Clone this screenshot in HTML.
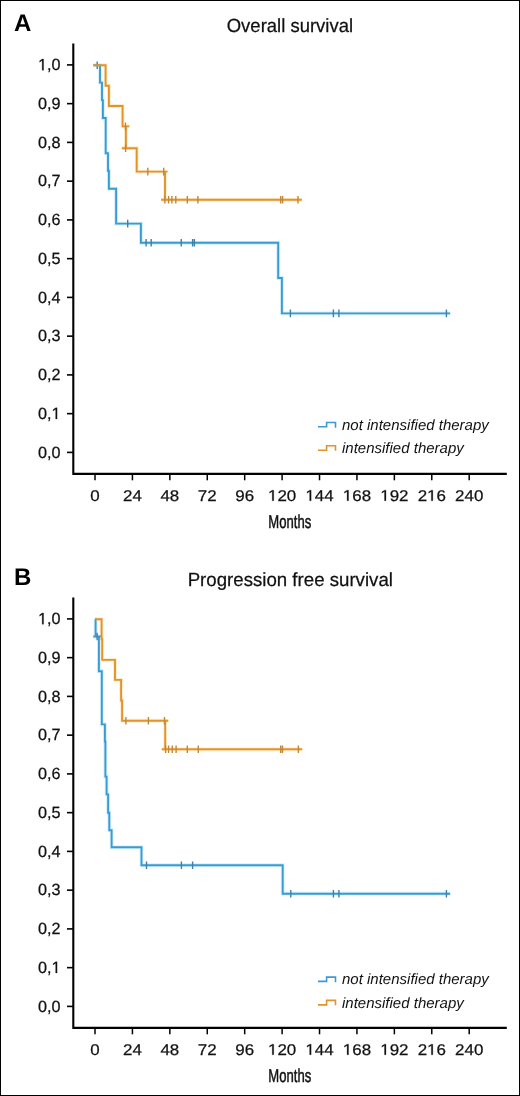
<!DOCTYPE html>
<html><head><meta charset="utf-8"><style>
html,body{margin:0;padding:0;background:#fff;overflow:hidden;}
#c{position:relative;width:520px;height:1096px;overflow:hidden;background:#fff;}
svg{will-change:transform;}
svg{position:absolute;left:0;top:0;}
</style></head><body><div id="c">
<svg width="520" height="1096" viewBox="0 0 520 1096" text-rendering="geometricPrecision">
<rect x="0.5" y="0.5" width="519" height="1095" fill="#fff" stroke="#000" stroke-width="1"/>
<g transform="translate(0,0)">
<text x="14" y="31" font-family="Liberation Sans" font-weight="bold" font-size="24" fill="#000">A</text>
<text x="289.9" y="32" text-anchor="middle" font-family="Liberation Sans" font-size="19" textLength="126.3" lengthAdjust="spacingAndGlyphs" fill="#111" stroke="#111" stroke-width="0.25">Overall survival</text>
<path d="M73.3,43.5 V474.8 M72.4,473.9 H506.8" stroke="#000" stroke-width="2.1" fill="none"/>
<path d="M67,64.90 H73" stroke="#000" stroke-width="1.6"/>
<text x="38.08" y="70.20" font-family="Liberation Sans" font-size="16.2" textLength="22.52" lengthAdjust="spacingAndGlyphs" fill="#111" stroke="#111" stroke-width="0.25"> ,0</text>
<path d="M515,0 L515,1237 L197,1010 L197,1180 L530,1409 L696,1409 L696,0 Z" transform="matrix(0.007910,0,0,-0.007910,38.080,70.200)" fill="#111" stroke="#111" stroke-width="0.25" vector-effect="non-scaling-stroke"/>
<path d="M67,103.65 H73" stroke="#000" stroke-width="1.6"/>
<text x="38.08" y="108.95" font-family="Liberation Sans" font-size="16.2" textLength="22.52" lengthAdjust="spacingAndGlyphs" fill="#111" stroke="#111" stroke-width="0.25">0,9</text>
<path d="M67,142.40 H73" stroke="#000" stroke-width="1.6"/>
<text x="38.08" y="147.70" font-family="Liberation Sans" font-size="16.2" textLength="22.52" lengthAdjust="spacingAndGlyphs" fill="#111" stroke="#111" stroke-width="0.25">0,8</text>
<path d="M67,181.15 H73" stroke="#000" stroke-width="1.6"/>
<text x="38.08" y="186.45" font-family="Liberation Sans" font-size="16.2" textLength="22.52" lengthAdjust="spacingAndGlyphs" fill="#111" stroke="#111" stroke-width="0.25">0,7</text>
<path d="M67,219.90 H73" stroke="#000" stroke-width="1.6"/>
<text x="38.08" y="225.20" font-family="Liberation Sans" font-size="16.2" textLength="22.52" lengthAdjust="spacingAndGlyphs" fill="#111" stroke="#111" stroke-width="0.25">0,6</text>
<path d="M67,258.65 H73" stroke="#000" stroke-width="1.6"/>
<text x="38.08" y="263.95" font-family="Liberation Sans" font-size="16.2" textLength="22.52" lengthAdjust="spacingAndGlyphs" fill="#111" stroke="#111" stroke-width="0.25">0,5</text>
<path d="M67,297.40 H73" stroke="#000" stroke-width="1.6"/>
<text x="38.08" y="302.70" font-family="Liberation Sans" font-size="16.2" textLength="22.52" lengthAdjust="spacingAndGlyphs" fill="#111" stroke="#111" stroke-width="0.25">0,4</text>
<path d="M67,336.15 H73" stroke="#000" stroke-width="1.6"/>
<text x="38.08" y="341.45" font-family="Liberation Sans" font-size="16.2" textLength="22.52" lengthAdjust="spacingAndGlyphs" fill="#111" stroke="#111" stroke-width="0.25">0,3</text>
<path d="M67,374.90 H73" stroke="#000" stroke-width="1.6"/>
<text x="38.08" y="380.20" font-family="Liberation Sans" font-size="16.2" textLength="22.52" lengthAdjust="spacingAndGlyphs" fill="#111" stroke="#111" stroke-width="0.25">0,2</text>
<path d="M67,413.65 H73" stroke="#000" stroke-width="1.6"/>
<text x="38.08" y="418.95" font-family="Liberation Sans" font-size="16.2" textLength="22.52" lengthAdjust="spacingAndGlyphs" fill="#111" stroke="#111" stroke-width="0.25">0, </text>
<path d="M515,0 L515,1237 L197,1010 L197,1180 L530,1409 L696,1409 L696,0 Z" transform="matrix(0.007910,0,0,-0.007910,51.591,418.950)" fill="#111" stroke="#111" stroke-width="0.25" vector-effect="non-scaling-stroke"/>
<path d="M67,452.40 H73" stroke="#000" stroke-width="1.6"/>
<text x="38.08" y="457.70" font-family="Liberation Sans" font-size="16.2" textLength="22.52" lengthAdjust="spacingAndGlyphs" fill="#111" stroke="#111" stroke-width="0.25">0,0</text>
<path d="M95.00,474 V480.3" stroke="#000" stroke-width="1.5"/>
<text x="90.29" y="500.80" font-family="Liberation Sans" font-size="15.5" textLength="9.41" lengthAdjust="spacingAndGlyphs" fill="#111" stroke="#111" stroke-width="0.25">0</text>
<path d="M132.42,474 V480.3" stroke="#000" stroke-width="1.5"/>
<text x="123.01" y="500.80" font-family="Liberation Sans" font-size="15.5" textLength="18.83" lengthAdjust="spacingAndGlyphs" fill="#111" stroke="#111" stroke-width="0.25">24</text>
<path d="M169.84,474 V480.3" stroke="#000" stroke-width="1.5"/>
<text x="160.43" y="500.80" font-family="Liberation Sans" font-size="15.5" textLength="18.83" lengthAdjust="spacingAndGlyphs" fill="#111" stroke="#111" stroke-width="0.25">48</text>
<path d="M207.26,474 V480.3" stroke="#000" stroke-width="1.5"/>
<text x="197.85" y="500.80" font-family="Liberation Sans" font-size="15.5" textLength="18.83" lengthAdjust="spacingAndGlyphs" fill="#111" stroke="#111" stroke-width="0.25">72</text>
<path d="M244.68,474 V480.3" stroke="#000" stroke-width="1.5"/>
<text x="235.27" y="500.80" font-family="Liberation Sans" font-size="15.5" textLength="18.83" lengthAdjust="spacingAndGlyphs" fill="#111" stroke="#111" stroke-width="0.25">96</text>
<path d="M282.10,474 V480.3" stroke="#000" stroke-width="1.5"/>
<text x="267.98" y="500.80" font-family="Liberation Sans" font-size="15.5" textLength="28.24" lengthAdjust="spacingAndGlyphs" fill="#111" stroke="#111" stroke-width="0.25"> 20</text>
<path d="M515,0 L515,1237 L197,1010 L197,1180 L530,1409 L696,1409 L696,0 Z" transform="matrix(0.008265,0,0,-0.007568,267.979,500.800)" fill="#111" stroke="#111" stroke-width="0.25" vector-effect="non-scaling-stroke"/>
<path d="M319.52,474 V480.3" stroke="#000" stroke-width="1.5"/>
<text x="305.40" y="500.80" font-family="Liberation Sans" font-size="15.5" textLength="28.24" lengthAdjust="spacingAndGlyphs" fill="#111" stroke="#111" stroke-width="0.25"> 44</text>
<path d="M515,0 L515,1237 L197,1010 L197,1180 L530,1409 L696,1409 L696,0 Z" transform="matrix(0.008265,0,0,-0.007568,305.399,500.800)" fill="#111" stroke="#111" stroke-width="0.25" vector-effect="non-scaling-stroke"/>
<path d="M356.94,474 V480.3" stroke="#000" stroke-width="1.5"/>
<text x="342.82" y="500.80" font-family="Liberation Sans" font-size="15.5" textLength="28.24" lengthAdjust="spacingAndGlyphs" fill="#111" stroke="#111" stroke-width="0.25"> 68</text>
<path d="M515,0 L515,1237 L197,1010 L197,1180 L530,1409 L696,1409 L696,0 Z" transform="matrix(0.008265,0,0,-0.007568,342.819,500.800)" fill="#111" stroke="#111" stroke-width="0.25" vector-effect="non-scaling-stroke"/>
<path d="M394.36,474 V480.3" stroke="#000" stroke-width="1.5"/>
<text x="380.24" y="500.80" font-family="Liberation Sans" font-size="15.5" textLength="28.24" lengthAdjust="spacingAndGlyphs" fill="#111" stroke="#111" stroke-width="0.25"> 92</text>
<path d="M515,0 L515,1237 L197,1010 L197,1180 L530,1409 L696,1409 L696,0 Z" transform="matrix(0.008265,0,0,-0.007568,380.239,500.800)" fill="#111" stroke="#111" stroke-width="0.25" vector-effect="non-scaling-stroke"/>
<path d="M431.78,474 V480.3" stroke="#000" stroke-width="1.5"/>
<text x="417.66" y="500.80" font-family="Liberation Sans" font-size="15.5" textLength="28.24" lengthAdjust="spacingAndGlyphs" fill="#111" stroke="#111" stroke-width="0.25">2 6</text>
<path d="M515,0 L515,1237 L197,1010 L197,1180 L530,1409 L696,1409 L696,0 Z" transform="matrix(0.008265,0,0,-0.007568,427.073,500.800)" fill="#111" stroke="#111" stroke-width="0.25" vector-effect="non-scaling-stroke"/>
<path d="M469.20,474 V480.3" stroke="#000" stroke-width="1.5"/>
<text x="455.08" y="500.80" font-family="Liberation Sans" font-size="15.5" textLength="28.24" lengthAdjust="spacingAndGlyphs" fill="#111" stroke="#111" stroke-width="0.25">240</text>
<text x="268.3" y="527.6" font-family="Liberation Sans" font-size="18.6" textLength="42.9" lengthAdjust="spacingAndGlyphs" fill="#111" stroke="#111" stroke-width="0.5">Months</text>
<path d="M95.00,65.20 L100.00,65.20 L100.00,82.60 L102.00,82.60 L102.00,100.10 L102.90,100.10 L102.90,118.00 L105.70,118.00 L105.70,153.20 L108.00,153.20 L108.00,170.80 L108.90,170.80 L108.90,188.70 L116.10,188.70 L116.10,223.60 L140.90,223.60 L140.90,242.80 L278.20,242.80 L278.20,278.00 L281.90,278.00 L281.90,313.40 L446.40,313.40 M93.40,65.20 H101.00 M123.90,223.60 H131.50 M142.30,242.80 H149.90 M147.40,242.80 H155.00 M177.45,242.80 H185.05 M188.80,242.80 H196.40 M190.60,242.80 H198.20 M286.60,313.40 H294.20 M329.60,313.40 H337.20 M335.10,313.40 H342.70 M442.60,313.40 H450.20 " stroke="#d4f0fa" stroke-width="3.8" fill="none"/>
<path d="M93.50,65.20 L105.60,65.20 L105.60,85.70 L108.90,85.70 L108.90,106.00 L122.60,106.00 L122.60,126.40 L125.90,126.40 L125.90,148.20 L136.70,148.20 L136.70,171.60 L165.00,171.60 L165.00,199.80 L298.00,199.80 M121.70,126.40 H129.30 M121.80,148.20 H129.40 M144.00,171.60 H151.60 M159.90,171.60 H167.50 M161.10,199.80 H168.70 M164.80,199.80 H172.40 M168.10,199.80 H175.70 M172.00,199.80 H179.60 M183.50,199.80 H191.10 M194.10,199.80 H201.70 M276.90,199.80 H284.50 M278.80,199.80 H286.40 M294.20,199.80 H301.80 " stroke="#fcefcc" stroke-width="3.8" fill="none"/>
<path d="M95.00,65.20 L100.00,65.20 L100.00,82.60 L102.00,82.60 L102.00,100.10 L102.90,100.10 L102.90,118.00 L105.70,118.00 L105.70,153.20 L108.00,153.20 L108.00,170.80 L108.90,170.80 L108.90,188.70 L116.10,188.70 L116.10,223.60 L140.90,223.60 L140.90,242.80 L278.20,242.80 L278.20,278.00 L281.90,278.00 L281.90,313.40 L446.40,313.40 M93.40,65.20 H101.00 M123.90,223.60 H131.50 M142.30,242.80 H149.90 M147.40,242.80 H155.00 M177.45,242.80 H185.05 M188.80,242.80 H196.40 M190.60,242.80 H198.20 M286.60,313.40 H294.20 M329.60,313.40 H337.20 M335.10,313.40 H342.70 M442.60,313.40 H450.20 " stroke="#3a9bd4" stroke-width="1.9" fill="none"/>
<path d="M97.20,61.40 V69.00 M127.70,219.80 V227.40 M146.10,239.00 V246.60 M151.20,239.00 V246.60 M181.25,239.00 V246.60 M192.60,239.00 V246.60 M194.40,239.00 V246.60 M290.40,309.60 V317.20 M333.40,309.60 V317.20 M338.90,309.60 V317.20 M446.40,309.60 V317.20 " stroke="#3f80aa" stroke-width="1.4" fill="none"/>
<path d="M93.50,65.20 L105.60,65.20 L105.60,85.70 L108.90,85.70 L108.90,106.00 L122.60,106.00 L122.60,126.40 L125.90,126.40 L125.90,148.20 L136.70,148.20 L136.70,171.60 L165.00,171.60 L165.00,199.80 L298.00,199.80 M121.70,126.40 H129.30 M121.80,148.20 H129.40 M144.00,171.60 H151.60 M159.90,171.60 H167.50 M161.10,199.80 H168.70 M164.80,199.80 H172.40 M168.10,199.80 H175.70 M172.00,199.80 H179.60 M183.50,199.80 H191.10 M194.10,199.80 H201.70 M276.90,199.80 H284.50 M278.80,199.80 H286.40 M294.20,199.80 H301.80 " stroke="#e3922c" stroke-width="1.9" fill="none"/>
<path d="M125.50,122.60 V130.20 M125.60,144.40 V152.00 M147.80,167.80 V175.40 M163.70,167.80 V175.40 M164.90,196.00 V203.60 M168.60,196.00 V203.60 M171.90,196.00 V203.60 M175.80,196.00 V203.60 M187.30,196.00 V203.60 M197.90,196.00 V203.60 M280.70,196.00 V203.60 M282.60,196.00 V203.60 M298.00,196.00 V203.60 " stroke="#c0883a" stroke-width="1.4" fill="none"/>
<g transform="translate(0,0)">
<path d="M318,426.75 H326.6 V422.5 H335.5 V427.75" stroke="#3a9bd4" stroke-width="1.6" fill="none"/>
<path d="M318,450.25 H326.6 V445.75 H335.5 V450.75" stroke="#e3922c" stroke-width="1.6" fill="none"/>
<text x="342" y="429.9" font-family="Liberation Sans" font-style="italic" font-size="15" fill="#111">not intensified therapy</text>
<text x="342" y="453.2" font-family="Liberation Sans" font-style="italic" font-size="15" fill="#111">intensified therapy</text>
</g>
</g>
<g transform="translate(0,554)">
<text x="14" y="31" font-family="Liberation Sans" font-weight="bold" font-size="24" fill="#000">B</text>
<text x="290.3" y="32" text-anchor="middle" font-family="Liberation Sans" font-size="19" textLength="205.3" lengthAdjust="spacingAndGlyphs" fill="#111" stroke="#111" stroke-width="0.25">Progression free survival</text>
<path d="M73.3,43.5 V474.8 M72.4,473.9 H506.8" stroke="#000" stroke-width="2.1" fill="none"/>
<path d="M67,64.90 H73" stroke="#000" stroke-width="1.6"/>
<text x="38.08" y="70.20" font-family="Liberation Sans" font-size="16.2" textLength="22.52" lengthAdjust="spacingAndGlyphs" fill="#111" stroke="#111" stroke-width="0.25"> ,0</text>
<path d="M515,0 L515,1237 L197,1010 L197,1180 L530,1409 L696,1409 L696,0 Z" transform="matrix(0.007910,0,0,-0.007910,38.080,70.200)" fill="#111" stroke="#111" stroke-width="0.25" vector-effect="non-scaling-stroke"/>
<path d="M67,103.65 H73" stroke="#000" stroke-width="1.6"/>
<text x="38.08" y="108.95" font-family="Liberation Sans" font-size="16.2" textLength="22.52" lengthAdjust="spacingAndGlyphs" fill="#111" stroke="#111" stroke-width="0.25">0,9</text>
<path d="M67,142.40 H73" stroke="#000" stroke-width="1.6"/>
<text x="38.08" y="147.70" font-family="Liberation Sans" font-size="16.2" textLength="22.52" lengthAdjust="spacingAndGlyphs" fill="#111" stroke="#111" stroke-width="0.25">0,8</text>
<path d="M67,181.15 H73" stroke="#000" stroke-width="1.6"/>
<text x="38.08" y="186.45" font-family="Liberation Sans" font-size="16.2" textLength="22.52" lengthAdjust="spacingAndGlyphs" fill="#111" stroke="#111" stroke-width="0.25">0,7</text>
<path d="M67,219.90 H73" stroke="#000" stroke-width="1.6"/>
<text x="38.08" y="225.20" font-family="Liberation Sans" font-size="16.2" textLength="22.52" lengthAdjust="spacingAndGlyphs" fill="#111" stroke="#111" stroke-width="0.25">0,6</text>
<path d="M67,258.65 H73" stroke="#000" stroke-width="1.6"/>
<text x="38.08" y="263.95" font-family="Liberation Sans" font-size="16.2" textLength="22.52" lengthAdjust="spacingAndGlyphs" fill="#111" stroke="#111" stroke-width="0.25">0,5</text>
<path d="M67,297.40 H73" stroke="#000" stroke-width="1.6"/>
<text x="38.08" y="302.70" font-family="Liberation Sans" font-size="16.2" textLength="22.52" lengthAdjust="spacingAndGlyphs" fill="#111" stroke="#111" stroke-width="0.25">0,4</text>
<path d="M67,336.15 H73" stroke="#000" stroke-width="1.6"/>
<text x="38.08" y="341.45" font-family="Liberation Sans" font-size="16.2" textLength="22.52" lengthAdjust="spacingAndGlyphs" fill="#111" stroke="#111" stroke-width="0.25">0,3</text>
<path d="M67,374.90 H73" stroke="#000" stroke-width="1.6"/>
<text x="38.08" y="380.20" font-family="Liberation Sans" font-size="16.2" textLength="22.52" lengthAdjust="spacingAndGlyphs" fill="#111" stroke="#111" stroke-width="0.25">0,2</text>
<path d="M67,413.65 H73" stroke="#000" stroke-width="1.6"/>
<text x="38.08" y="418.95" font-family="Liberation Sans" font-size="16.2" textLength="22.52" lengthAdjust="spacingAndGlyphs" fill="#111" stroke="#111" stroke-width="0.25">0, </text>
<path d="M515,0 L515,1237 L197,1010 L197,1180 L530,1409 L696,1409 L696,0 Z" transform="matrix(0.007910,0,0,-0.007910,51.591,418.950)" fill="#111" stroke="#111" stroke-width="0.25" vector-effect="non-scaling-stroke"/>
<path d="M67,452.40 H73" stroke="#000" stroke-width="1.6"/>
<text x="38.08" y="457.70" font-family="Liberation Sans" font-size="16.2" textLength="22.52" lengthAdjust="spacingAndGlyphs" fill="#111" stroke="#111" stroke-width="0.25">0,0</text>
<path d="M95.00,474 V480.3" stroke="#000" stroke-width="1.5"/>
<text x="90.29" y="500.80" font-family="Liberation Sans" font-size="15.5" textLength="9.41" lengthAdjust="spacingAndGlyphs" fill="#111" stroke="#111" stroke-width="0.25">0</text>
<path d="M132.42,474 V480.3" stroke="#000" stroke-width="1.5"/>
<text x="123.01" y="500.80" font-family="Liberation Sans" font-size="15.5" textLength="18.83" lengthAdjust="spacingAndGlyphs" fill="#111" stroke="#111" stroke-width="0.25">24</text>
<path d="M169.84,474 V480.3" stroke="#000" stroke-width="1.5"/>
<text x="160.43" y="500.80" font-family="Liberation Sans" font-size="15.5" textLength="18.83" lengthAdjust="spacingAndGlyphs" fill="#111" stroke="#111" stroke-width="0.25">48</text>
<path d="M207.26,474 V480.3" stroke="#000" stroke-width="1.5"/>
<text x="197.85" y="500.80" font-family="Liberation Sans" font-size="15.5" textLength="18.83" lengthAdjust="spacingAndGlyphs" fill="#111" stroke="#111" stroke-width="0.25">72</text>
<path d="M244.68,474 V480.3" stroke="#000" stroke-width="1.5"/>
<text x="235.27" y="500.80" font-family="Liberation Sans" font-size="15.5" textLength="18.83" lengthAdjust="spacingAndGlyphs" fill="#111" stroke="#111" stroke-width="0.25">96</text>
<path d="M282.10,474 V480.3" stroke="#000" stroke-width="1.5"/>
<text x="267.98" y="500.80" font-family="Liberation Sans" font-size="15.5" textLength="28.24" lengthAdjust="spacingAndGlyphs" fill="#111" stroke="#111" stroke-width="0.25"> 20</text>
<path d="M515,0 L515,1237 L197,1010 L197,1180 L530,1409 L696,1409 L696,0 Z" transform="matrix(0.008265,0,0,-0.007568,267.979,500.800)" fill="#111" stroke="#111" stroke-width="0.25" vector-effect="non-scaling-stroke"/>
<path d="M319.52,474 V480.3" stroke="#000" stroke-width="1.5"/>
<text x="305.40" y="500.80" font-family="Liberation Sans" font-size="15.5" textLength="28.24" lengthAdjust="spacingAndGlyphs" fill="#111" stroke="#111" stroke-width="0.25"> 44</text>
<path d="M515,0 L515,1237 L197,1010 L197,1180 L530,1409 L696,1409 L696,0 Z" transform="matrix(0.008265,0,0,-0.007568,305.399,500.800)" fill="#111" stroke="#111" stroke-width="0.25" vector-effect="non-scaling-stroke"/>
<path d="M356.94,474 V480.3" stroke="#000" stroke-width="1.5"/>
<text x="342.82" y="500.80" font-family="Liberation Sans" font-size="15.5" textLength="28.24" lengthAdjust="spacingAndGlyphs" fill="#111" stroke="#111" stroke-width="0.25"> 68</text>
<path d="M515,0 L515,1237 L197,1010 L197,1180 L530,1409 L696,1409 L696,0 Z" transform="matrix(0.008265,0,0,-0.007568,342.819,500.800)" fill="#111" stroke="#111" stroke-width="0.25" vector-effect="non-scaling-stroke"/>
<path d="M394.36,474 V480.3" stroke="#000" stroke-width="1.5"/>
<text x="380.24" y="500.80" font-family="Liberation Sans" font-size="15.5" textLength="28.24" lengthAdjust="spacingAndGlyphs" fill="#111" stroke="#111" stroke-width="0.25"> 92</text>
<path d="M515,0 L515,1237 L197,1010 L197,1180 L530,1409 L696,1409 L696,0 Z" transform="matrix(0.008265,0,0,-0.007568,380.239,500.800)" fill="#111" stroke="#111" stroke-width="0.25" vector-effect="non-scaling-stroke"/>
<path d="M431.78,474 V480.3" stroke="#000" stroke-width="1.5"/>
<text x="417.66" y="500.80" font-family="Liberation Sans" font-size="15.5" textLength="28.24" lengthAdjust="spacingAndGlyphs" fill="#111" stroke="#111" stroke-width="0.25">2 6</text>
<path d="M515,0 L515,1237 L197,1010 L197,1180 L530,1409 L696,1409 L696,0 Z" transform="matrix(0.008265,0,0,-0.007568,427.073,500.800)" fill="#111" stroke="#111" stroke-width="0.25" vector-effect="non-scaling-stroke"/>
<path d="M469.20,474 V480.3" stroke="#000" stroke-width="1.5"/>
<text x="455.08" y="500.80" font-family="Liberation Sans" font-size="15.5" textLength="28.24" lengthAdjust="spacingAndGlyphs" fill="#111" stroke="#111" stroke-width="0.25">240</text>
<text x="268.3" y="527.6" font-family="Liberation Sans" font-size="18.6" textLength="42.9" lengthAdjust="spacingAndGlyphs" fill="#111" stroke="#111" stroke-width="0.5">Months</text>
<path d="M95.00,65.20 L95.60,65.20 L95.60,82.50 L98.90,82.50 L98.90,117.20 L101.80,117.20 L101.80,170.40 L104.90,170.40 L104.90,187.50 L105.40,187.50 L105.40,222.60 L106.60,222.60 L106.60,240.40 L108.10,240.40 L108.10,258.70 L109.30,258.70 L109.30,276.20 L111.60,276.20 L111.60,293.30 L141.50,293.30 L141.50,311.20 L282.70,311.20 L282.70,339.70 L446.40,339.70 M93.30,82.50 H100.90 M142.70,311.20 H150.30 M177.60,311.20 H185.20 M188.80,311.20 H196.40 M287.00,339.70 H294.60 M329.60,339.70 H337.20 M335.10,339.70 H342.70 M442.60,339.70 H450.20 " stroke="#d4f0fa" stroke-width="3.8" fill="none"/>
<path d="M95.20,65.20 L101.60,65.20 L101.60,85.20 L102.20,85.20 L102.20,105.90 L115.00,105.90 L115.00,125.90 L121.10,125.90 L121.10,146.50 L122.10,146.50 L122.10,166.70 L165.20,166.70 L165.20,195.30 L298.40,195.30 M122.10,166.70 H129.70 M144.60,166.70 H152.20 M160.70,166.70 H168.30 M161.80,195.30 H169.40 M164.80,195.30 H172.40 M168.50,195.30 H176.10 M172.30,195.30 H179.90 M183.50,195.30 H191.10 M194.50,195.30 H202.10 M276.90,195.30 H284.50 M278.70,195.30 H286.30 M294.60,195.30 H302.20 " stroke="#fcefcc" stroke-width="3.8" fill="none"/>
<path d="M95.00,65.20 L95.60,65.20 L95.60,82.50 L98.90,82.50 L98.90,117.20 L101.80,117.20 L101.80,170.40 L104.90,170.40 L104.90,187.50 L105.40,187.50 L105.40,222.60 L106.60,222.60 L106.60,240.40 L108.10,240.40 L108.10,258.70 L109.30,258.70 L109.30,276.20 L111.60,276.20 L111.60,293.30 L141.50,293.30 L141.50,311.20 L282.70,311.20 L282.70,339.70 L446.40,339.70 M93.30,82.50 H100.90 M142.70,311.20 H150.30 M177.60,311.20 H185.20 M188.80,311.20 H196.40 M287.00,339.70 H294.60 M329.60,339.70 H337.20 M335.10,339.70 H342.70 M442.60,339.70 H450.20 " stroke="#3a9bd4" stroke-width="1.9" fill="none"/>
<path d="M97.10,78.70 V86.30 M146.50,307.40 V315.00 M181.40,307.40 V315.00 M192.60,307.40 V315.00 M290.80,335.90 V343.50 M333.40,335.90 V343.50 M338.90,335.90 V343.50 M446.40,335.90 V343.50 " stroke="#3f80aa" stroke-width="1.4" fill="none"/>
<path d="M95.20,65.20 L101.60,65.20 L101.60,85.20 L102.20,85.20 L102.20,105.90 L115.00,105.90 L115.00,125.90 L121.10,125.90 L121.10,146.50 L122.10,146.50 L122.10,166.70 L165.20,166.70 L165.20,195.30 L298.40,195.30 M122.10,166.70 H129.70 M144.60,166.70 H152.20 M160.70,166.70 H168.30 M161.80,195.30 H169.40 M164.80,195.30 H172.40 M168.50,195.30 H176.10 M172.30,195.30 H179.90 M183.50,195.30 H191.10 M194.50,195.30 H202.10 M276.90,195.30 H284.50 M278.70,195.30 H286.30 M294.60,195.30 H302.20 " stroke="#e3922c" stroke-width="1.9" fill="none"/>
<path d="M125.90,162.90 V170.50 M148.40,162.90 V170.50 M164.50,162.90 V170.50 M165.60,191.50 V199.10 M168.60,191.50 V199.10 M172.30,191.50 V199.10 M176.10,191.50 V199.10 M187.30,191.50 V199.10 M198.30,191.50 V199.10 M280.70,191.50 V199.10 M282.50,191.50 V199.10 M298.40,191.50 V199.10 " stroke="#c0883a" stroke-width="1.4" fill="none"/>
<g transform="translate(0,0.6)">
<path d="M318,426.75 H326.6 V422.5 H335.5 V427.75" stroke="#3a9bd4" stroke-width="1.6" fill="none"/>
<path d="M318,450.25 H326.6 V445.75 H335.5 V450.75" stroke="#e3922c" stroke-width="1.6" fill="none"/>
<text x="342" y="429.9" font-family="Liberation Sans" font-style="italic" font-size="15" fill="#111">not intensified therapy</text>
<text x="342" y="453.2" font-family="Liberation Sans" font-style="italic" font-size="15" fill="#111">intensified therapy</text>
</g>
</g>
</svg></div></body></html>
